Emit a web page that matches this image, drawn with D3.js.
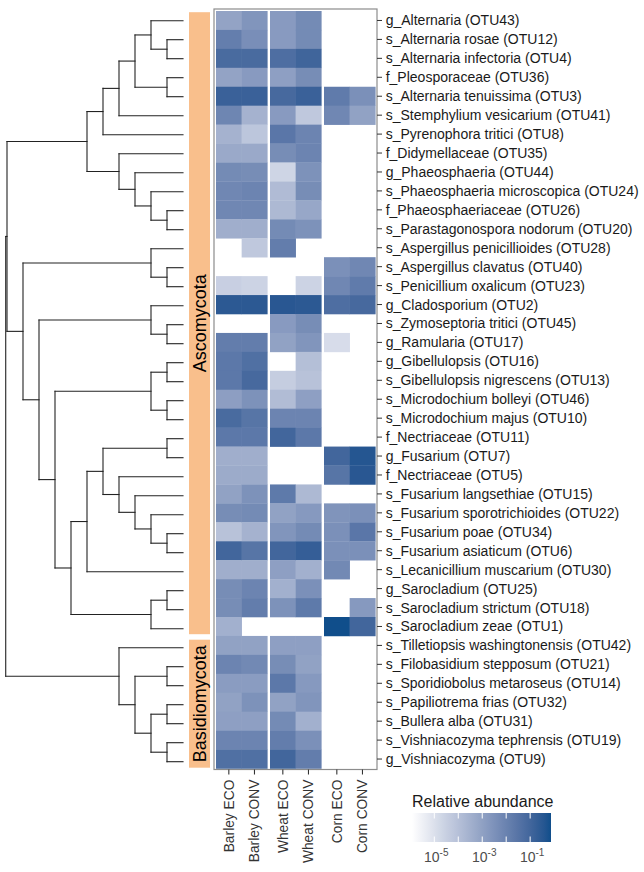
<!DOCTYPE html>
<html><head><meta charset="utf-8">
<script src="https://cdn.jsdelivr.net/npm/d3@7"></script>
<style>body{margin:0;background:#fff} svg{display:block}</style>
</head><body>
<svg id="c" width="644" height="872"></svg>
<script>
const taxa = [
"g_Alternaria (OTU43)","s_Alternaria rosae (OTU12)","s_Alternaria infectoria (OTU4)","f_Pleosporaceae (OTU36)",
"s_Alternaria tenuissima (OTU3)","s_Stemphylium vesicarium (OTU41)","s_Pyrenophora tritici (OTU8)","f_Didymellaceae (OTU35)",
"g_Phaeosphaeria (OTU44)","s_Phaeosphaeria microscopica (OTU24)","f_Phaeosphaeriaceae (OTU26)","s_Parastagonospora nodorum (OTU20)",
"s_Aspergillus penicillioides (OTU28)","s_Aspergillus clavatus (OTU40)","s_Penicillium oxalicum (OTU23)","g_Cladosporium (OTU2)",
"s_Zymoseptoria tritici (OTU45)","g_Ramularia (OTU17)","g_Gibellulopsis (OTU16)","s_Gibellulopsis nigrescens (OTU13)",
"s_Microdochium bolleyi (OTU46)","s_Microdochium majus (OTU10)","f_Nectriaceae (OTU11)","g_Fusarium (OTU7)",
"f_Nectriaceae (OTU5)","s_Fusarium langsethiae (OTU15)","s_Fusarium sporotrichioides (OTU22)","s_Fusarium poae (OTU34)",
"s_Fusarium asiaticum (OTU6)","s_Lecanicillium muscarium (OTU30)","g_Sarocladium (OTU25)","s_Sarocladium strictum (OTU18)",
"s_Sarocladium zeae (OTU1)","s_Tilletiopsis washingtonensis (OTU42)","s_Filobasidium stepposum (OTU21)","s_Sporidiobolus metaroseus (OTU14)",
"s_Papiliotrema frias (OTU32)","s_Bullera alba (OTU31)","s_Vishniacozyma tephrensis (OTU19)","g_Vishniacozyma (OTU9)"];

const crops = ["Barley","Wheat","Corn"];
const systems = ["ECO","CONV"];

// relative abundance per sample (null = absent)
const barleyECO = [
8.2e-4,1.4e-2,6.7e-2,8.2e-4,0.15,7.9e-3,2.8e-4,5.5e-4,5.3e-3,6.9e-3,
6.9e-3,3.7e-4,null,null,3.3e-5,0.29,null,1.5e-2,2.3e-2,2.3e-2,
1.2e-3,6.7e-2,2.3e-2,3.7e-4,4.8e-4,9.3e-4,4.6e-3,8.5e-5,0.10,3.7e-4,
4.6e-3,4.6e-3,3.2e-4,9.3e-4,9.1e-3,1.4e-3,9.3e-4,1.1e-3,9.1e-3,4.5e-2];
const barleyCONV = [
2.4e-3,4.0e-3,6.7e-2,1.6e-3,0.15,2.8e-4,6.5e-5,5.5e-4,4.6e-3,9.1e-3,
6.9e-3,3.7e-4,5.6e-5,null,2.5e-5,0.29,null,1.5e-2,4.5e-2,7.6e-2,
3.1e-3,3.0e-2,2.3e-2,3.7e-4,4.8e-4,3.1e-3,5.3e-3,2.8e-4,3.0e-2,3.7e-4,
9.1e-3,1.5e-2,null,9.3e-4,6.0e-3,1.4e-3,3.1e-3,1.1e-3,9.1e-3,4.5e-2];
const wheatECO = [
1.6e-3,1.6e-3,5.1e-2,1.1e-3,7.6e-2,1.6e-3,2.6e-2,4.6e-3,2.2e-5,1.4e-4,
1.7e-4,5.3e-3,1.5e-2,null,null,0.33,1.6e-3,9.3e-4,null,3.8e-5,
1.3e-4,9.1e-3,0.10,null,null,2.0e-2,9.3e-4,2.4e-3,0.10,1.1e-3,
3.2e-4,3.1e-3,null,1.1e-3,4.6e-3,2.3e-2,9.3e-4,5.3e-3,1.5e-2,0.10];
const wheatCONV = [
5.3e-3,5.3e-3,0.11,4.6e-3,0.15,5.6e-5,9.1e-3,9.1e-3,3.1e-3,4.6e-3,
6.3e-4,3.1e-3,null,null,2.5e-5,0.29,4.6e-3,2.4e-3,1.1e-4,8.5e-5,
1.1e-3,9.1e-3,2.3e-2,null,null,1.7e-4,1.8e-3,5.3e-3,0.19,3.2e-4,
3.5e-3,2.0e-2,null,1.1e-3,9.3e-4,1.8e-3,2.4e-3,3.2e-4,3.5e-3,1.5e-2];
const cornECO = [
null,null,null,null,1.8e-2,6.9e-3,null,null,null,null,
null,null,null,3.5e-3,6.9e-3,5.1e-2,null,1.3e-5,null,null,
null,null,null,0.10,3.0e-2,null,2.7e-3,3.5e-3,3.5e-3,6.0e-3,
null,null,0.74,null,null,null,null,null,null,null];
const cornCONV = [
null,null,null,null,3.5e-3,9.3e-4,null,null,null,null,
null,null,null,6.9e-3,1.8e-2,7.6e-2,null,null,null,null,
null,null,null,0.38,0.33,null,3.5e-3,2.6e-2,3.5e-3,null,
null,1.8e-3,0.10,null,null,null,null,null,null,null];

const series = {Barley:{ECO:barleyECO, CONV:barleyCONV}, Wheat:{ECO:wheatECO, CONV:wheatCONV}, Corn:{ECO:cornECO, CONV:cornCONV}};

const phyla = [{name:"Ascomycota", first:0, last:32},{name:"Basidiomycota", first:33, last:39}];

// dendrogram: [height, child, child], leaves = row number (1-based)
const tree = [11.08,
  [11,
    [6,
      [5, [4, [3, [2, 1, [1, 2, 3]], [1, 4, 5]], 6], 7],
      [4, 8, [3, 9, [2, 10, [1, 11, 12]]]]],
    [10,
      [2, 13, [1, 14, 15]],
      [9,
        [2, 16, [1, 17, 18]],
        [8,
          [2, [1, 19, 20], [1, 21, 22]],
          [7,
            [6, [5, [1, 23, 24], [4, 25, [3, 26, [2, 27, [1, 28, 29]]]]], 30],
            [2, [1, 31, 32], 33]]]]]],
  [4, 34, [3, [1, 35, 36], [2, [1, 37, 38], [1, 39, 40]]]]];

const legendTickExps = [-5,-4,-3,-2,-1];
const legendLabelExps = [-5,-3,-1];
const colorDomain = [-5.93, -0.13];

const svg = d3.select("#c");
const font = "'Liberation Sans', Arial, sans-serif";

// scales
const color = d3.scaleLinear().domain(colorDomain).range(["#ffffff", "#104e8b"]).interpolate(d3.interpolateLab).clamp(true);
const rowIdx = d3.range(taxa.length);
const yHeat = d3.scaleBand().domain(rowIdx).range([11, 768.5]);
const yTree = d3.scaleBand().domain(rowIdx).range([11.2, 771.2]);
const xCrop = d3.scaleBand().domain(crops).range([216, 375.3]).paddingInner(0.05);
const xSys = d3.scaleBand().domain(systems).range([0, xCrop.bandwidth()]);
const xTree = d3.scaleLinear().domain([0, 11]).range([183, 7]);

// heatmap cells
const cells = [];
crops.forEach(c => systems.forEach(s => series[c][s].forEach((v, i) => { if (v != null) cells.push({c, s, i, v}); })));
svg.append("g").selectAll("rect").data(cells).join("rect")
  .attr("x", d => xCrop(d.c) + xSys(d.s))
  .attr("y", d => yHeat(d.i))
  .attr("width", xSys.bandwidth() + 0.3)
  .attr("height", yHeat.bandwidth() + 0.3)
  .attr("fill", d => color(Math.log10(d.v)));

// frame
const fx0 = 214, fx1 = 377, fy0 = 9, fy1 = 769.5;
svg.append("rect").attr("x", fx0).attr("y", fy0).attr("width", fx1 - fx0).attr("height", fy1 - fy0)
  .attr("fill", "none").attr("stroke", "#8c8c8c").attr("stroke-width", 1.2);

// bottom axis
const samplesX = [];
crops.forEach(c => systems.forEach(s => samplesX.push({label: c + " " + s, x: xCrop(c) + xSys(s) + xSys.bandwidth() / 2})));
const gx = svg.append("g");
gx.selectAll("line").data(samplesX).join("line")
  .attr("x1", d => d.x).attr("x2", d => d.x).attr("y1", fy1).attr("y2", fy1 + 5)
  .attr("stroke", "#333").attr("stroke-width", 1.1);
gx.selectAll("text").data(samplesX).join("text")
  .attr("transform", d => `translate(${d.x + 4.9},${fy1 + 10}) rotate(-90)`)
  .attr("text-anchor", "end").attr("font-family", font).attr("font-size", 13.8).attr("fill", "#333")
  .text(d => d.label);

// right axis labels
const gy = svg.append("g");
gy.selectAll("line").data(rowIdx).join("line")
  .attr("x1", fx1).attr("x2", fx1 + 5)
  .attr("y1", i => yHeat(i) + yHeat.bandwidth() / 2).attr("y2", i => yHeat(i) + yHeat.bandwidth() / 2)
  .attr("stroke", "#333").attr("stroke-width", 1);
gy.selectAll("text").data(rowIdx).join("text")
  .attr("x", fx1 + 8.7).attr("y", i => yHeat(i) + yHeat.bandwidth() / 2 + 5)
  .attr("font-family", font).attr("font-size", 14).attr("fill", "#1a1a1a")
  .text(i => taxa[i]);

// phylum bars
const gp = svg.append("g");
phyla.forEach((p, k) => {
  const y0 = yTree(p.first) + (k === 0 ? 1 : 1.5);
  const y1 = yTree(p.last) + yTree.bandwidth() - (k === 0 ? 4 : 3.5);
  gp.append("rect").attr("x", 189).attr("y", y0).attr("width", 21).attr("height", y1 - y0).attr("fill", "#f9bf8c");
  gp.append("text").attr("transform", `translate(205.8,${(y0 + y1) / 2}) rotate(-90)`)
    .attr("text-anchor", "middle").attr("font-family", font).attr("font-size", 18).attr("fill", "#000")
    .text(p.name);
});

// dendrogram
const root = d3.hierarchy(tree, d => Array.isArray(d) ? d.slice(1) : null);
root.eachAfter(n => {
  if (!n.children) { n.py = yTree(n.data - 1) + yTree.bandwidth() / 2; n.px = xTree(0); }
  else {
    n.py = (n.children[0].py + n.children[n.children.length - 1].py) / 2;
    n.px = xTree(n.data[0]);
  }
});
const segs = [];
root.each(n => {
  if (n.children) {
    segs.push([n.px, n.children[0].py, n.px, n.children[n.children.length - 1].py]);
    n.children.forEach(ch => segs.push([n.px, ch.py, ch.px, ch.py]));
  }
});
svg.append("g").selectAll("line").data(segs).join("line")
  .attr("x1", d => d[0]).attr("y1", d => d[1]).attr("x2", d => d[2]).attr("y2", d => d[3])
  .attr("stroke", "#222").attr("stroke-width", 1.1).attr("stroke-linecap", "square");

// legend
const lx = d3.scaleLinear().domain(colorDomain).range([412, 551]);
const defs = svg.append("defs");
const grad = defs.append("linearGradient").attr("id", "lg");
d3.range(0, 1.0001, 0.05).forEach(t => {
  grad.append("stop").attr("offset", t).attr("stop-color", color(colorDomain[0] + t * (colorDomain[1] - colorDomain[0])));
});
const lg = svg.append("g");
lg.append("text").attr("x", 412).attr("y", 806.5).attr("font-family", font).attr("font-size", 16).attr("fill", "#1a1a1a").text("Relative abundance");
lg.append("rect").attr("x", lx(colorDomain[0])).attr("y", 813).attr("width", lx(colorDomain[1]) - lx(colorDomain[0])).attr("height", 29).attr("fill", "url(#lg)");
legendTickExps.forEach(e => {
  lg.append("line").attr("x1", lx(e)).attr("x2", lx(e)).attr("y1", 813).attr("y2", 818.5).attr("stroke", "#fff").attr("stroke-width", 1);
  lg.append("line").attr("x1", lx(e)).attr("x2", lx(e)).attr("y1", 836.5).attr("y2", 842).attr("stroke", "#fff").attr("stroke-width", 1);
});
legendLabelExps.forEach(e => {
  const t = lg.append("text").attr("x", lx(e) + 2).attr("y", 861.5).attr("text-anchor", "middle")
    .attr("font-family", font).attr("font-size", 14).attr("fill", "#4d4d4d");
  t.append("tspan").text("10");
  t.append("tspan").attr("dy", -6).attr("font-size", 10).text(String(e));
});
</script>
</body></html>
